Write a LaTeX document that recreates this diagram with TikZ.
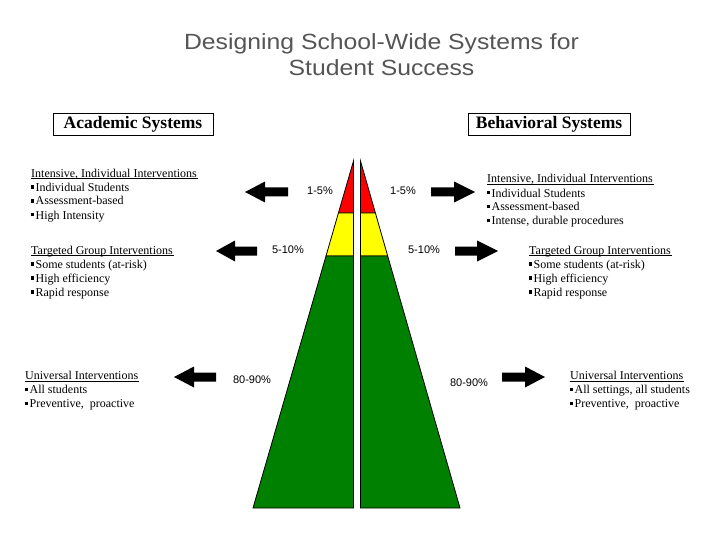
\documentclass[tikz,border=0pt]{standalone}
\usepackage{fontspec}
\setmainfont{Liberation Serif}
\newfontfamily\arialf{Liberation Sans}
\newfontfamily\titlef[FakeStretch=1.125]{Liberation Sans}
\definecolor{titlegray}{RGB}{85,85,85}
\definecolor{pyrred}{RGB}{255,0,0}
\definecolor{pyryellow}{RGB}{255,255,0}
\definecolor{pyrgreen}{RGB}{0,128,0}
\newcommand\bul{\raisebox{2.5pt}{\rule{2.8pt}{3.2pt}}\hspace{1.6pt}}
\newcommand\hdul[1]{\setbox0\hbox{#1}\rlap{\rule[-2.4pt]{\dimexpr\wd0+1pt\relax}{1.2pt}}\box0}
\tikzset{
  txtblock/.style={anchor=base west, inner sep=0pt, align=left, font=\fontsize{12}{14}\selectfont},
  pct/.style={inner sep=0pt, font=\arialf\fontsize{11}{13}\selectfont},
  sysbox/.style={draw, line width=0.8pt, minimum width=160pt, minimum height=22pt, inner sep=0pt, font=\bfseries\fontsize{17.5}{19}\selectfont},
  titletxt/.style={anchor=base, inner sep=0pt, text=titlegray, font=\titlef\fontsize{22}{24}\selectfont},
  blockarrow/.style={fill=black},
  tier/.style={draw=black, line width=0.8pt}
}
\begin{document}
\begin{tikzpicture}[x=1pt,y=-1pt]
\useasboundingbox (0,0) rectangle (720,540);
\fill[white] (0,0) rectangle (720,540);

% title
\node[titletxt] (title1) at (381.5,49.5) {Designing School-Wide Systems for};
\node[titletxt] (title2) at (381.5,75.5) {Student Success};

% system headings
\node[sysbox] (acad) at (133,124) {Academic Systems};
\node[sysbox, minimum width=162pt] (behav) at (549,124) {Behavioral Systems};

% pyramid, left half
\path[tier, fill=pyrred] (353.5,161) -- (353.5,213) -- (338.4,213) -- cycle;
\path[tier, fill=pyryellow] (338.4,213) -- (353.5,213) -- (353.5,256) -- (326.0,256) -- cycle;
\path[tier, fill=pyrgreen] (326.0,256) -- (353.5,256) -- (353.5,508) -- (253,508) -- cycle;
% pyramid, right half
\path[tier, fill=pyrred] (360.5,161) -- (360.5,213) -- (375.4,213) -- cycle;
\path[tier, fill=pyryellow] (375.4,213) -- (360.5,213) -- (360.5,256) -- (387.7,256) -- cycle;
\path[tier, fill=pyrgreen] (387.7,256) -- (360.5,256) -- (360.5,508) -- (460,508) -- cycle;

% percentage labels
\node[pct] (pl1) at (320,191) {1-5\%};
\node[pct] (pr1) at (403,191) {1-5\%};
\node[pct] (pl2) at (288,250) {5-10\%};
\node[pct] (pr2) at (424,250) {5-10\%};
\node[pct] (pl3) at (252,380) {80-90\%};
\node[pct] (pr3) at (469,383) {80-90\%};

% block arrows, left (pointing left)
\fill[blockarrow] (245,192) -- (265,181.5) -- (265,187.5) -- (288,187.5) -- (288,196.5) -- (265,196.5) -- (265,202.5) -- cycle;
\fill[blockarrow] (216,251) -- (235,240.5) -- (235,246.5) -- (257,246.5) -- (257,255.5) -- (235,255.5) -- (235,261.5) -- cycle;
\fill[blockarrow] (174,377) -- (194,366.5) -- (194,372.5) -- (216,372.5) -- (216,381.5) -- (194,381.5) -- (194,387.5) -- cycle;
% block arrows, right (pointing right)
\fill[blockarrow] (475,192) -- (454,181.5) -- (454,187.5) -- (431,187.5) -- (431,196.5) -- (454,196.5) -- (454,202.5) -- cycle;
\fill[blockarrow] (498,251) -- (477,240.5) -- (477,246.5) -- (455,246.5) -- (455,255.5) -- (477,255.5) -- (477,261.5) -- cycle;
\fill[blockarrow] (545,377) -- (525,366.5) -- (525,372.5) -- (502,372.5) -- (502,381.5) -- (525,381.5) -- (525,387.5) -- cycle;

% academic text blocks (anchored at the baseline of the last line)
\node[txtblock] (ai) at (31,219) {\hdul{Intensive, Individual Interventions}\\ \bul Individual Students\\ \bul Assessment-based\\ \bul High Intensity};
\node[txtblock] (at) at (31,296) {\hdul{Targeted Group Interventions}\\ \bul Some students (at-risk)\\ \bul High efficiency\\ \bul Rapid response};
\node[txtblock] (au) at (25,407.5) {\hdul{Universal Interventions}\\ \bul All students\\ \bul Preventive,\ \ proactive};

% behavioral text blocks
\node[txtblock] (bi) at (487,225) {\hdul{Intensive, Individual Interventions}\\ \bul Individual Students\\ \bul Assessment-based\\ \bul Intense, durable procedures};
\node[txtblock] (bt) at (529,296) {\hdul{Targeted Group Interventions}\\ \bul Some students (at-risk)\\ \bul High efficiency\\ \bul Rapid response};
\node[txtblock] (bu) at (570,407.5) {\hdul{Universal Interventions}\\ \bul All settings, all students\\ \bul Preventive,\ \ proactive};
\end{tikzpicture}
\end{document}
